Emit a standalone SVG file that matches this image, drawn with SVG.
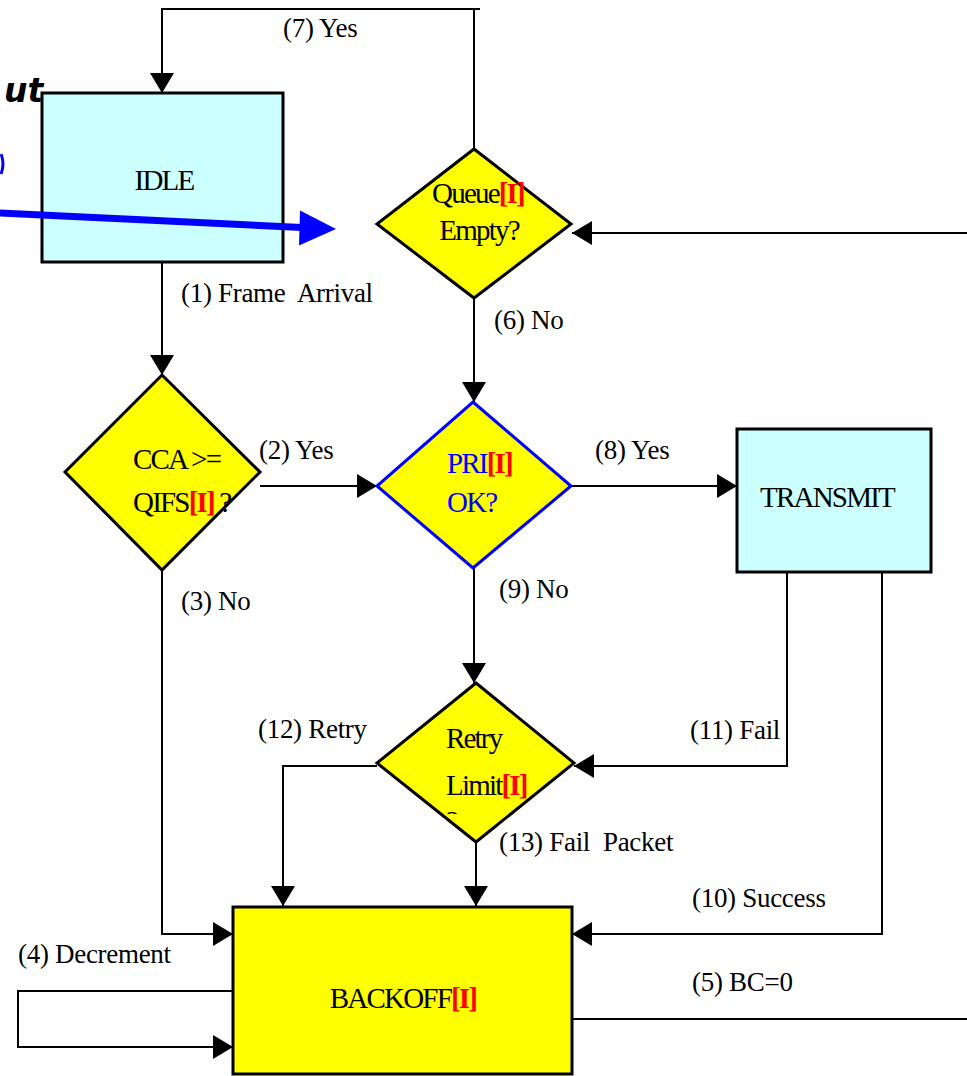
<svg xmlns="http://www.w3.org/2000/svg" width="967" height="1076" viewBox="0 0 967 1076">
  <style>
    .lbl { font-family: "Liberation Serif", "Times New Roman", serif; font-size: 27px; letter-spacing: -0.3px; fill: #000; white-space: pre; }
    .nt { font-family: "Liberation Serif", "Times New Roman", serif; font-size: 29px; letter-spacing: -1.8px; fill: #000; }
    .idx { fill: #FF0000; font-weight: bold; }
    .box { fill: #CCFFFF; stroke: #000; stroke-width: 3; }
    .dec { fill: #FFFF00; stroke: #000; stroke-width: 3; }
    .conn { fill: none; stroke: #000; stroke-width: 2; }
  </style>
  <defs>
    <marker id="ah" viewBox="0 0 20 24" refX="20" refY="12" markerWidth="20" markerHeight="24" markerUnits="userSpaceOnUse" orient="auto">
      <path d="M0,0 L20,12 L0,24 z" fill="#000"/>
    </marker>
    <clipPath id="retryClip">
      <rect x="380" y="680" width="200" height="134"/>
    </clipPath>
  </defs>
  <rect width="967" height="1076" fill="#fff"/>

  <!-- connectors -->
  <g id="connectors" class="conn">
    <path d="M474,149 V9 H162 V93" marker-end="url(#ah)"/>
    <path d="M474,9 H480"/>
    <path d="M162,262 V375" marker-end="url(#ah)"/>
    <path d="M260,486 H377" marker-end="url(#ah)"/>
    <path d="M162,570 V934 H233" marker-end="url(#ah)"/>
    <path d="M233,991 H18 V1047 H233" marker-end="url(#ah)"/>
    <path d="M572,1019 H967"/>
    <path d="M474,297 V402" marker-end="url(#ah)"/>
    <path d="M967,233 H572" marker-end="url(#ah)"/>
    <path d="M571,486 H737" marker-end="url(#ah)"/>
    <path d="M474,568 V683" marker-end="url(#ah)"/>
    <path d="M787,572 V766 H574" marker-end="url(#ah)"/>
    <path d="M882,572 V934 H572" marker-end="url(#ah)"/>
    <path d="M377,766 H283 V906" marker-end="url(#ah)"/>
    <path d="M476,842 V906" marker-end="url(#ah)"/>
  </g>

  <!-- connector labels -->
  <g id="labels">
    <text class="lbl" x="283" y="37">(7) Yes</text>
    <text class="lbl" x="181" y="302">(1) Frame  Arrival</text>
    <text class="lbl" x="259" y="459">(2) Yes</text>
    <text class="lbl" x="494" y="329">(6) No</text>
    <text class="lbl" x="595" y="459">(8) Yes</text>
    <text class="lbl" x="181" y="610">(3) No</text>
    <text class="lbl" x="499" y="598">(9) No</text>
    <text class="lbl" x="258" y="738">(12) Retry</text>
    <text class="lbl" x="690" y="739">(11) Fail</text>
    <text class="lbl" x="499" y="851">(13) Fail  Packet</text>
    <text class="lbl" x="692" y="907">(10) Success</text>
    <text class="lbl" x="18" y="963">(4) Decrement</text>
    <text class="lbl" x="692" y="991">(5) BC=0</text>
  </g>

  <g id="idle">
    <rect class="box" x="42" y="93" width="241" height="169"/>
    <text class="nt" x="164" y="190" text-anchor="middle">IDLE</text>
  </g>

  <g id="queue-empty">
    <polygon class="dec" points="474,149 571,224 474,298 377,224"/>
    <text class="nt" x="478" y="203" text-anchor="middle">Queue<tspan class="idx">[I]</tspan></text>
    <text class="nt" x="479" y="240" text-anchor="middle">Empty?</text>
  </g>

  <g id="cca">
    <polygon class="dec" points="162,375 260,472 162,570 65,472"/>
    <text class="nt" x="133" y="469">CCA &gt;=</text>
    <text class="nt" x="133" y="512">QIFS<tspan class="idx">[I]</tspan> ?</text>
  </g>

  <g id="pri">
    <polygon points="473,402 571,486 473,568 377,486" fill="#FFFF00" stroke="#0000FF" stroke-width="3"/>
    <text class="nt" x="447" y="473" style="fill:#0000FF">PRI<tspan class="idx">[I]</tspan></text>
    <text class="nt" x="447" y="512" style="fill:#0000FF">OK?</text>
  </g>

  <g id="transmit">
    <rect class="box" x="737" y="429" width="194" height="143"/>
    <text class="nt" x="827" y="507" text-anchor="middle">TRANSMIT</text>
  </g>

  <g id="retry-limit">
    <polygon class="dec" points="476,683 574,763 476,842 377,763"/>
    <text class="nt" x="446" y="748">Retry</text>
    <text class="nt" x="446" y="795">Limit<tspan class="idx">[I]</tspan></text>
    <text class="nt" x="446" y="831" clip-path="url(#retryClip)">?</text>
  </g>

  <g id="backoff">
    <rect x="233" y="907" width="339" height="167" fill="#FFFF00" stroke="#000" stroke-width="3"/>
    <text class="nt" x="403" y="1008" text-anchor="middle">BACKOFF<tspan class="idx">[I]</tspan></text>
  </g>

  <!-- handwritten overlay -->
  <g id="annotation">
    <text x="4" y="102" font-family="DejaVu Sans, sans-serif" font-size="33" font-weight="bold" font-style="oblique" fill="#000">ut</text>
    <path d="M1,154 Q5,163 1,174" fill="none" stroke="#0000FF" stroke-width="3"/>
    <path d="M0,213 L302,227.5" fill="none" stroke="#0000FF" stroke-width="7"/>
    <polygon points="336,229 300,210.5 299,245.5" fill="#0000FF"/>
  </g>
</svg>
